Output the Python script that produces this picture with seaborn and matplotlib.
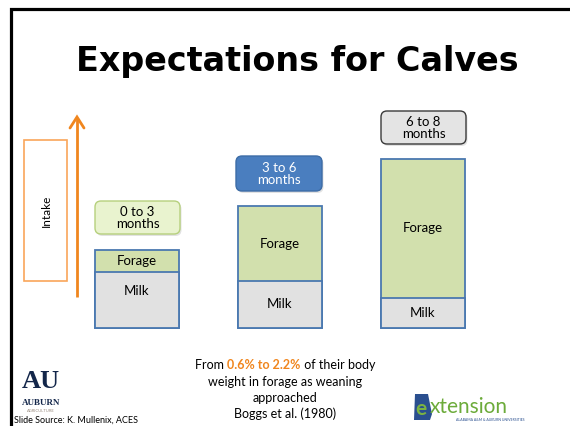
import matplotlib
matplotlib.use("Agg")
import matplotlib.pyplot as plt
import seaborn as sns
import pandas as pd
from matplotlib.patches import FancyBboxPatch, Rectangle, Polygon

# ---- data ----
stages = ["0 to 3\nmonths", "3 to 6\nmonths", "6 to 8\nmonths"]
milk = [56, 47, 30]
forage = [22, 75, 139]
title = "Expectations for Calves"
note_lines = ["weight in forage as weaning", "approached", "Boggs et al. (1980)"]

sns.set_theme(style="white")
plt.rcParams['font.family'] = ['Lato', 'DejaVu Sans']

fig = plt.figure(figsize=(5.7, 4.26), dpi=100)
W, H = 570, 426

# overlay axes in pixel coordinates
ov = fig.add_axes([0, 0, 1, 1])
ov.set_xlim(0, W)
ov.set_ylim(H, 0)
ov.axis("off")

# frame
ov.plot([11, 11, W], [H, 9, 9], color="black", lw=2.3, solid_joinstyle="miter")

# title
ov.text(297, 62, title, ha="center", va="center", fontsize=24, fontweight="heavy",
        family=["DejaVu Sans"], color="black")

# intake box + arrow
orange = "#f0861e"
ov.add_patch(Rectangle((24, 140), 43, 141, fill=False, edgecolor="#f9a65a", lw=1.2))
ov.text(46, 211, "Intake", rotation=90, ha="center", va="center", fontsize=8.5, color="black")
ov.plot([77, 77], [297, 118], color=orange, lw=2.0, solid_capstyle="butt")
ov.plot([70, 77, 84], [128, 117, 128], color=orange, lw=2.0, solid_capstyle="round",
        solid_joinstyle="miter")

# stage label boxes
box_specs = [
    dict(x=95, y=201, w=85, h=33, fc="#e9f3cf", ec="#b6d07d", tc="black"),
    dict(x=236, y=156, w=86, h=35, fc="#4a7ebf", ec="#3d6ca6", tc="white"),
    dict(x=381, y=111, w=85, h=33, fc="#e4e4e4", ec="#3a3a3a", tc="black"),
]
for lab, s in zip(stages, box_specs):
    shadow = FancyBboxPatch((s["x"] + 1.5, s["y"] + 2), s["w"], s["h"],
                            boxstyle="round,pad=0,rounding_size=6", fc="#cfcfcf", ec="none", alpha=0.6)
    ov.add_patch(shadow)
    box = FancyBboxPatch((s["x"], s["y"]), s["w"], s["h"],
                         boxstyle="round,pad=0,rounding_size=6", fc=s["fc"], ec=s["ec"], lw=1.0)
    ov.add_patch(box)
    ov.text(s["x"] + s["w"] / 2, s["y"] + s["h"] / 2 + 0.5, lab, ha="center", va="center",
            fontsize=9.5, color=s["tc"], linespacing=1.0)

# ---- stacked bars (seaborn) ----
left_px, right_px, base_px, top_px = 65.5, 494.5, 328, 100
bx = fig.add_axes([left_px / W, (H - base_px) / H, (right_px - left_px) / W, (base_px - top_px) / H])
bx.patch.set_alpha(0)
df = pd.DataFrame({"stage": stages, "milk": milk, "forage": forage})
df["total"] = df["milk"] + df["forage"]
edge = "#4a78b0"
sns.barplot(data=df, x="stage", y="total", color="#d2e0ad", saturation=1, width=0.594,
            edgecolor=edge, linewidth=1.3, ax=bx, clip_on=False)
sns.barplot(data=df, x="stage", y="milk", color="#e1e1e1", saturation=1, width=0.594,
            edgecolor=edge, linewidth=1.3, ax=bx, clip_on=False)
bx.set_xlim(-0.5, 2.5)
bx.set_ylim(0, base_px - top_px)
bx.axis("off")

for i, (m, f) in enumerate(zip(milk, forage)):
    bx.text(i, m + f / 2, "Forage", ha="center", va="center", fontsize=9.5, color="black")
    my = m - 19 if i == 0 else m / 2
    bx.text(i, my, "Milk", ha="center", va="center", fontsize=9.5, color="black")

# ---- bottom note with highlighted part ----
fig.canvas.draw()
r = fig.canvas.get_renderer()
parts = [("From ", "black", "normal"), ("0.6% to 2.2%", orange, "bold"), (" of their body", "black", "normal")]
txts = [ov.text(0, 365, p, color=c, fontweight=w, fontsize=9, ha="left", va="center") for p, c, w in parts]
widths = [t.get_window_extent(r).width for t in txts]
x0 = 285 - sum(widths) / 2
for t, w in zip(txts, widths):
    t.set_x(x0)
    x0 += w
for k, line in enumerate(note_lines):
    ov.text(285, 382 + 16 * k, line, ha="center", va="center", fontsize=9, color="black")

# ---- logos (text approximations) ----
navy = "#13264a"
ov.text(41, 382, "AU", ha="center", va="center", fontsize=19, fontweight="bold",
        family=["Liberation Serif", "DejaVu Serif"], color=navy)
ov.text(41, 403, "AUBURN", ha="center", va="center", fontsize=6.5, fontweight="bold",
        family=["Liberation Serif", "DejaVu Serif"], color=navy)
ov.text(41, 411, "AGRICULTURE", ha="center", va="center", fontsize=3, color="#9a8c80")
ov.text(14, 420, "Slide Source: K. Mullenix, ACES", ha="left", va="center", fontsize=6.5, color="black")

ov.add_patch(Polygon([(415, 394), (428, 394), (432, 414), (430, 420), (414, 420)],
                     closed=True, fc="#2a4f8f", ec="none"))
ov.text(421, 409, "e", ha="center", va="center", fontsize=15, color="#7bb342", fontweight="bold")
ov.text(430, 407, "xtension", ha="left", va="center", fontsize=15, color="#6cab3a")
ov.text(490, 420, "ALABAMA A&M & AUBURN UNIVERSITIES", ha="center", va="center", fontsize=2.5, color="#2a4f8f")

fig.savefig("out.png", dpi=100)
